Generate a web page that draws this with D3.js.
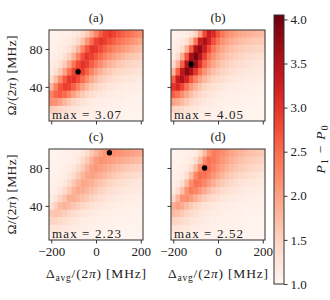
<!DOCTYPE html>
<html>
<head>
<meta charset="utf-8">
<script src="https://cdn.jsdelivr.net/npm/d3@7"></script>
<style>
  body { margin: 0; background: #fff; }
  text { font-family: "Liberation Serif", "DejaVu Serif", serif; fill: #222; }
</style>
</head>
<body>
<script>
// grid of the maps
const xValues = [-200, -180, -160, -140, -120, -100, -80, -60, -40, -20, 0, 20, 40, 60, 80, 100, 120, 140, 160, 180, 200];
const yValues = [96, 88, 80, 72, 64, 56, 48, 40, 32, 24, 16, 8];

const panelA = [
  [1.05,1.05,1.08,1.10,1.12,1.18,1.25,1.40,1.60,1.90,2.25,2.60,2.85,2.95,2.85,2.70,2.60,2.50,2.40,2.30,2.20],
  [1.05,1.08,1.10,1.15,1.20,1.30,1.45,1.70,2.10,2.50,2.85,3.00,2.90,2.75,2.60,2.45,2.35,2.25,2.15,2.05,1.95],
  [1.08,1.10,1.15,1.20,1.30,1.50,1.80,2.25,2.70,3.00,2.95,2.80,2.60,2.45,2.30,2.20,2.10,2.00,1.90,1.80,1.75],
  [1.10,1.15,1.20,1.35,1.55,1.85,2.30,2.75,3.00,2.90,2.70,2.50,2.30,2.15,2.00,1.90,1.80,1.70,1.65,1.60,1.55],
  [1.15,1.20,1.35,1.60,1.95,2.40,2.80,3.02,2.90,2.65,2.40,2.20,2.00,1.85,1.75,1.65,1.58,1.52,1.48,1.44,1.40],
  [1.20,1.35,1.60,2.00,2.45,2.85,3.07,2.90,2.60,2.30,2.05,1.85,1.70,1.60,1.52,1.45,1.40,1.37,1.34,1.32,1.30],
  [1.40,1.75,2.20,2.65,2.95,3.00,2.80,2.50,2.20,1.95,1.75,1.60,1.50,1.42,1.36,1.32,1.28,1.25,1.23,1.21,1.20],
  [1.80,2.30,2.70,2.90,2.85,2.60,2.30,2.00,1.80,1.62,1.50,1.40,1.33,1.28,1.24,1.20,1.18,1.16,1.14,1.13,1.12],
  [2.30,2.55,2.65,2.50,2.25,2.00,1.78,1.60,1.47,1.37,1.30,1.25,1.20,1.17,1.15,1.13,1.12,1.10,1.10,1.09,1.08],
  [2.20,2.15,2.00,1.80,1.62,1.48,1.38,1.30,1.24,1.20,1.16,1.14,1.12,1.10,1.09,1.08,1.07,1.06,1.06,1.05,1.05],
  [1.60,1.55,1.48,1.40,1.33,1.27,1.22,1.18,1.15,1.12,1.10,1.09,1.08,1.07,1.06,1.05,1.05,1.04,1.04,1.03,1.03],
  [1.25,1.23,1.20,1.18,1.15,1.13,1.11,1.09,1.08,1.07,1.06,1.05,1.05,1.04,1.04,1.03,1.03,1.02,1.02,1.02,1.02]
];

const panelB = [
  [1.05,1.07,1.10,1.15,1.25,1.50,2.00,2.80,3.30,3.10,2.70,2.40,2.20,2.10,2.00,1.95,1.90,1.85,1.80,1.78,1.75],
  [1.08,1.12,1.20,1.35,1.70,2.40,3.30,3.60,3.20,2.75,2.40,2.15,2.00,1.90,1.82,1.75,1.70,1.66,1.62,1.60,1.58],
  [1.12,1.20,1.40,1.85,2.60,3.50,3.80,3.30,2.80,2.40,2.12,1.95,1.82,1.72,1.65,1.60,1.55,1.52,1.49,1.47,1.45],
  [1.20,1.40,1.90,2.70,3.60,3.95,3.50,2.90,2.45,2.15,1.95,1.80,1.68,1.60,1.53,1.48,1.44,1.40,1.37,1.35,1.33],
  [1.40,1.85,2.60,3.50,4.05,3.70,3.05,2.55,2.20,1.95,1.78,1.65,1.55,1.48,1.42,1.38,1.34,1.31,1.28,1.26,1.25],
  [1.80,2.60,3.40,3.85,3.60,3.00,2.50,2.15,1.90,1.72,1.60,1.50,1.43,1.37,1.32,1.28,1.25,1.23,1.21,1.19,1.18],
  [2.60,3.30,3.55,3.20,2.70,2.30,2.00,1.78,1.62,1.50,1.42,1.35,1.30,1.26,1.23,1.20,1.18,1.16,1.14,1.13,1.12],
  [3.00,3.15,2.85,2.45,2.10,1.85,1.65,1.50,1.40,1.33,1.27,1.23,1.19,1.16,1.14,1.12,1.11,1.10,1.09,1.08,1.08],
  [2.60,2.45,2.20,1.95,1.72,1.55,1.43,1.34,1.27,1.22,1.18,1.15,1.13,1.11,1.10,1.09,1.08,1.07,1.06,1.06,1.05],
  [2.00,1.90,1.75,1.60,1.47,1.37,1.29,1.23,1.18,1.15,1.12,1.10,1.09,1.08,1.07,1.06,1.05,1.05,1.04,1.04,1.04],
  [1.50,1.45,1.40,1.33,1.27,1.22,1.18,1.14,1.12,1.10,1.08,1.07,1.06,1.05,1.05,1.04,1.04,1.03,1.03,1.03,1.03],
  [1.22,1.20,1.18,1.16,1.14,1.12,1.10,1.08,1.07,1.06,1.05,1.05,1.04,1.04,1.03,1.03,1.03,1.02,1.02,1.02,1.02]
];

const panelC = [
  [1.03,1.04,1.05,1.06,1.08,1.10,1.15,1.25,1.40,1.60,1.80,1.98,2.12,2.23,2.20,2.15,2.10,2.05,2.00,1.97,1.94],
  [1.04,1.05,1.06,1.08,1.10,1.15,1.25,1.40,1.60,1.85,2.05,2.15,2.12,2.05,2.00,1.95,1.90,1.85,1.80,1.76,1.72],
  [1.05,1.06,1.08,1.10,1.15,1.25,1.40,1.60,1.82,2.00,2.08,2.03,1.95,1.88,1.80,1.74,1.68,1.63,1.58,1.54,1.50],
  [1.06,1.08,1.10,1.15,1.25,1.40,1.60,1.80,1.95,2.00,1.95,1.87,1.78,1.70,1.62,1.55,1.50,1.45,1.41,1.38,1.35],
  [1.08,1.10,1.15,1.25,1.42,1.62,1.82,1.95,1.92,1.85,1.76,1.67,1.58,1.50,1.44,1.39,1.35,1.31,1.28,1.26,1.24],
  [1.10,1.15,1.25,1.42,1.62,1.82,1.92,1.88,1.80,1.70,1.60,1.51,1.44,1.38,1.33,1.29,1.26,1.23,1.21,1.19,1.18],
  [1.18,1.30,1.48,1.68,1.85,1.88,1.80,1.70,1.60,1.50,1.42,1.36,1.31,1.27,1.23,1.20,1.18,1.16,1.14,1.13,1.12],
  [1.35,1.55,1.75,1.82,1.75,1.65,1.55,1.46,1.38,1.32,1.27,1.23,1.20,1.17,1.15,1.13,1.12,1.10,1.09,1.08,1.08],
  [1.60,1.68,1.65,1.56,1.47,1.39,1.33,1.28,1.24,1.20,1.17,1.15,1.13,1.11,1.10,1.09,1.08,1.07,1.06,1.06,1.05],
  [1.50,1.47,1.42,1.36,1.30,1.25,1.21,1.18,1.15,1.13,1.11,1.10,1.09,1.08,1.07,1.06,1.05,1.05,1.04,1.04,1.04],
  [1.30,1.28,1.25,1.22,1.19,1.16,1.14,1.12,1.10,1.09,1.08,1.07,1.06,1.05,1.05,1.04,1.04,1.03,1.03,1.03,1.03],
  [1.12,1.11,1.10,1.09,1.08,1.07,1.06,1.05,1.05,1.04,1.04,1.03,1.03,1.03,1.02,1.02,1.02,1.02,1.02,1.01,1.01]
];

const panelD = [
  [1.04,1.05,1.06,1.08,1.12,1.20,1.40,1.75,2.15,2.35,2.30,2.20,2.08,1.98,1.90,1.83,1.77,1.72,1.68,1.64,1.60],
  [1.05,1.06,1.08,1.12,1.20,1.38,1.75,2.20,2.45,2.38,2.25,2.10,1.98,1.87,1.78,1.71,1.65,1.60,1.56,1.52,1.49],
  [1.06,1.08,1.12,1.20,1.38,1.75,2.25,2.52,2.45,2.30,2.13,1.98,1.86,1.75,1.67,1.60,1.54,1.49,1.45,1.42,1.39],
  [1.08,1.12,1.20,1.38,1.75,2.25,2.50,2.45,2.30,2.12,1.95,1.80,1.68,1.59,1.51,1.45,1.40,1.36,1.33,1.30,1.28],
  [1.12,1.20,1.38,1.75,2.20,2.45,2.40,2.25,2.05,1.88,1.72,1.60,1.50,1.43,1.37,1.32,1.28,1.25,1.23,1.21,1.19],
  [1.20,1.38,1.72,2.15,2.35,2.28,2.10,1.92,1.75,1.60,1.50,1.41,1.35,1.30,1.26,1.22,1.20,1.18,1.16,1.14,1.13],
  [1.45,1.80,2.15,2.20,2.05,1.88,1.72,1.58,1.47,1.39,1.33,1.28,1.24,1.20,1.18,1.16,1.14,1.12,1.11,1.10,1.09],
  [1.90,2.00,1.90,1.75,1.60,1.48,1.39,1.32,1.27,1.22,1.19,1.16,1.14,1.12,1.11,1.10,1.09,1.08,1.07,1.07,1.06],
  [1.75,1.70,1.60,1.50,1.41,1.34,1.28,1.23,1.19,1.16,1.14,1.12,1.10,1.09,1.08,1.07,1.06,1.06,1.05,1.05,1.05],
  [1.50,1.47,1.42,1.36,1.30,1.25,1.20,1.17,1.14,1.12,1.10,1.09,1.08,1.07,1.06,1.05,1.05,1.04,1.04,1.04,1.03],
  [1.30,1.28,1.25,1.22,1.19,1.16,1.14,1.12,1.10,1.09,1.08,1.07,1.06,1.05,1.05,1.04,1.04,1.03,1.03,1.03,1.03],
  [1.12,1.11,1.10,1.09,1.08,1.07,1.06,1.05,1.05,1.04,1.04,1.03,1.03,1.03,1.02,1.02,1.02,1.02,1.02,1.01,1.01]
];

const panelLabels = ["(a)", "(b)", "(c)", "(d)"];
const maxLabels = ["3.07", "4.05", "2.23", "2.52"];
const markers = [[-80, 56], [-120, 64], [60, 96], [-60, 80]];
const xTicks = [-200, 0, 200];
const yTicks = [40, 80];
const cbarTicks = [1.0, 1.5, 2.0, 2.5, 3.0, 3.5, 4.0];

const svgWidth = 330, svgHeight = 300;
const panelW = 94, panelH = 91;
const frameColor = "#333";
const serif = "'Liberation Serif', 'DejaVu Serif', serif";

const colorScale = d3.scaleSequential(d3.interpolateReds).domain([1.0, 4.05]);

const svg = d3.select("body")
    .append("svg")
    .attr("width", svgWidth)
    .attr("height", svgHeight)
    .style("font-family", serif);

// one heat map with its frame, ticks and labels
function draw_panel(data, idx, left, top, showX, showY) {
    const x = d3.scaleLinear().domain([-210, 210]).range([left, left + panelW]);
    const y = d3.scaleLinear().domain([4, 100]).range([top + panelH, top]);
    const g = svg.append("g");

    let cells = [];
    data.forEach((row, i) => row.forEach((v, j) => cells.push({x: xValues[j], y: yValues[i], v: v})));

    g.selectAll(".cell")
        .data(cells)
        .join("rect")
        .attr("class", "cell")
        .attr("x", d => x(d.x - 10))
        .attr("y", d => y(d.y + 4))
        .attr("width", x(20) - x(0) + 0.4)
        .attr("height", y(0) - y(8) + 0.4)
        .attr("fill", d => colorScale(d.v));

    // marker of the maximum
    g.append("circle")
        .attr("cx", x(markers[idx][0]))
        .attr("cy", y(markers[idx][1]))
        .attr("r", 2.7)
        .attr("fill", "black");

    g.append("text")
        .attr("x", left + 3)
        .attr("y", top + panelH - 2.5)
        .style("font-size", "13px")
        .attr("textLength", 69)
        .attr("lengthAdjust", "spacing")
        .text(`max = ${maxLabels[idx]}`);

    g.append("rect")
        .attr("x", left)
        .attr("y", top)
        .attr("width", panelW)
        .attr("height", panelH)
        .attr("fill", "none")
        .attr("stroke", frameColor)
        .attr("stroke-width", 1);

    const xAxis = g.append("g")
        .attr("transform", `translate(0, ${top + panelH})`)
        .call(d3.axisBottom(x).tickValues(xTicks).tickSize(3.5).tickPadding(3)
            .tickFormat(showX ? d3.format("d") : ""));
    const yAxis = g.append("g")
        .attr("transform", `translate(${left}, 0)`)
        .call(d3.axisLeft(y).tickValues(yTicks).tickSize(3.5).tickPadding(3)
            .tickFormat(showY ? d3.format("d") : ""));
    [xAxis, yAxis].forEach(a => {
        a.attr("font-family", serif).attr("font-size", 13);
        a.select(".domain").remove();
        a.selectAll("line").attr("stroke", frameColor);
        a.selectAll("text").attr("fill", "#222");
    });

    g.append("text")
        .attr("x", left + panelW / 2)
        .attr("y", top - 8.5)
        .attr("text-anchor", "middle")
        .style("font-size", "13px")
        .text(panelLabels[idx]);

    if (showY) {
        const t = g.append("text")
            .attr("transform", `translate(16, ${top + panelH / 2}) rotate(-90)`)
            .attr("text-anchor", "middle")
            .attr("textLength", 80)
            .attr("lengthAdjust", "spacing")
            .style("font-size", "13.5px");
        t.append("tspan").text("Ω/(2");
        t.append("tspan").style("font-style", "italic").text("π");
        t.append("tspan").text(") [MHz]");
    }
    if (showX) {
        const t = g.append("text")
            .attr("x", left + panelW / 2)
            .attr("y", 278)
            .attr("text-anchor", "middle")
            .attr("textLength", 100)
            .attr("lengthAdjust", "spacing")
            .style("font-size", "13.5px");
        t.append("tspan").text("Δ");
        t.append("tspan").attr("dy", 2.5).style("font-size", "9.5px").text("avg");
        t.append("tspan").attr("dy", -2.5).text("/(2");
        t.append("tspan").style("font-style", "italic").text("π");
        t.append("tspan").text(") [MHz]");
    }
}

function draw_colorbar() {
    const cx = 274, cw = 10, ctop = 15, cbottom = 284;
    const cy = d3.scaleLinear().domain([1.0, 4.05]).range([cbottom, ctop]);

    const grad = svg.append("defs")
        .append("linearGradient")
        .attr("id", "cbar")
        .attr("x1", 0).attr("y1", 1).attr("x2", 0).attr("y2", 0);
    grad.selectAll("stop")
        .data(d3.range(0, 1.0001, 0.05))
        .join("stop")
        .attr("offset", d => d)
        .attr("stop-color", d => d3.interpolateReds(d));

    svg.append("rect")
        .attr("x", cx).attr("y", ctop)
        .attr("width", cw).attr("height", cbottom - ctop)
        .attr("fill", "url(#cbar)")
        .attr("stroke", frameColor)
        .attr("stroke-width", 1);

    const axis = svg.append("g")
        .attr("transform", `translate(${cx + cw}, 0)`)
        .call(d3.axisRight(cy).tickValues(cbarTicks).tickSize(3.5).tickPadding(3)
            .tickFormat(d3.format(".1f")));
    axis.attr("font-family", serif).attr("font-size", 13);
    axis.select(".domain").remove();
    axis.selectAll("line").attr("stroke", frameColor);
    axis.selectAll("text").attr("fill", "#222");

    const t = svg.append("text")
        .attr("transform", `translate(325, ${(ctop + cbottom) / 2}) rotate(-90)`)
        .attr("text-anchor", "middle")
        .attr("textLength", 48)
        .attr("lengthAdjust", "spacing")
        .style("font-size", "13.5px");
    t.append("tspan").style("font-style", "italic").text("P");
    t.append("tspan").attr("dy", 2.5).style("font-size", "9.5px").text("1");
    t.append("tspan").attr("dy", -2.5).text(" − ");
    t.append("tspan").style("font-style", "italic").text("P");
    t.append("tspan").attr("dy", 2.5).style("font-size", "9.5px").text("0");
}

draw_panel(panelA, 0, 49, 30, false, true);
draw_panel(panelB, 1, 171, 30, false, false);
draw_panel(panelC, 2, 49, 149, true, true);
draw_panel(panelD, 3, 171, 149, true, false);
draw_colorbar();
</script>
</body>
</html>
